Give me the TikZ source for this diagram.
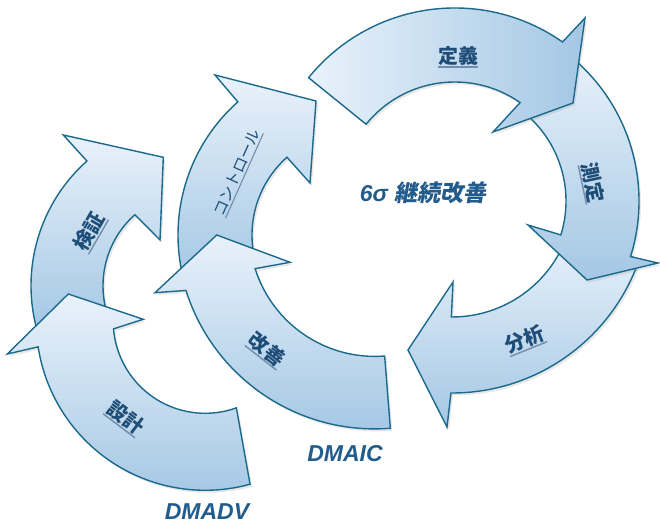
\documentclass[tikz,border=0pt]{standalone}
\usepackage{fontspec}
\setmainfont{Liberation Sans}
\newfontfamily\jp{Noto Sans CJK JP}
\newfontfamily\jpsl[FakeSlant=0.18]{Noto Sans CJK JP}
\usetikzlibrary{calc,shadows}
\definecolor{edge}{RGB}{27,106,140}
\definecolor{lite}{RGB}{233,242,251}
\definecolor{dark}{RGB}{164,199,228}
\definecolor{lbl}{RGB}{30,78,120}
\definecolor{ttl}{RGB}{33,92,140}
\definecolor{ulc}{RGB}{115,140,168}
\newcommand{\ulb}[1]{\setbox0=\hbox{#1}\rlap{\color{ulc}\rule[-0.2em]{\wd0}{0.07em}}\box0}
\newcommand{\lab}[5]{%
  \node[labtxt, rotate=#3, font=#5] (#1) at (#2) {\ulb{#4}};}
\begin{document}
\begin{tikzpicture}[x=1pt,y=1pt,
  arr/.style={draw=edge, line width=1.4pt, line join=miter, top color=lite, bottom color=dark,
    drop shadow={opacity=0.18, shadow xshift=2pt, shadow yshift=-2.5pt}},
  labtxt/.style={text=lbl, inner sep=0pt},
  bigfont/.style={font=\fontsize{23}{27}\selectfont}]
\useasboundingbox (0,0) rectangle (660,525);
\fill[white] (0,0) rectangle (660,525);
% centres
\coordinate (cK) at (356,290);
\coordinate (cG) at (374.8,294.1);
\coordinate (cB) at (452,330);
\coordinate (cS) at (452,324);
\coordinate (cT) at (454.7,329);
\coordinate (cV) at (198,239.3);
\coordinate (cD) at (205.2,203.7);
% DMADV: verify then design
\path[arr] ($(cV)+(-165:167)$) arc[start angle=-165, end angle=-228.3, radius=167]
  -- (63.3,390) -- (163.3,367.7) -- (160,285)
  -- ($(cV)+(-228.3:95)$) arc[start angle=-228.3, end angle=-165, radius=95] -- cycle;
\path[arr] ($(cD)+(-74.6:169)$) arc[start angle=-74.6, end angle=-171.3, radius=169]
  -- (7.3,171) -- (68.3,231) -- (143.3,205.7)
  -- ($(cD)+(-175.3:92)$) arc[start angle=-175.3, end angle=-70.2, radius=92] -- cycle;
% DMAIC
\path[arr] ($(cK)+(-165:178)$) arc[start angle=-165, end angle=-228.4, radius=178]
  -- (215,450) -- (316,424) -- (310,342)
  -- ($(cK)+(-228.4:104)$) arc[start angle=-228.4, end angle=-165, radius=104] -- cycle;
\path[arr] ($(cG)+(-85.5:198)$) arc[start angle=-85.5, end angle=-162.5, radius=198]
  -- (155,232.3) -- (216.7,290) -- (290,262.7)
  -- ($(cG)+(-162.5:125.5)$) arc[start angle=-162.5, end angle=-85.5, radius=125.5] -- cycle;
\path[arr] ($(cB)+(-19:198)$) arc[start angle=-19, end angle=-90.3, radius=198]
  -- (447,98) -- (408,175) -- (453,243)
  -- ($(cB)+(-90.3:122)$) arc[start angle=-90.3, end angle=-19, radius=122] -- cycle;
\path[arr] ($(cS)+(52:187)$) arc[start angle=52, end angle=-17.3, radius=187]
  -- (658,262) -- (587,245) -- (528,300)
  -- ($(cS)+(-17.3:114)$) arc[start angle=-17.3, end angle=52, radius=114] -- cycle;
\path[arr, shading angle=90] ($(cT)+(141:188)$) arc[start angle=141, end angle=55, radius=188]
  -- (585,507) -- (573,422) -- (493,393)
  -- ($(cT)+(55:114)$) arc[start angle=55, end angle=141, radius=114] -- cycle;
% labels
\lab{lT}{458,468}{0}{定義}{\jp\bfseries\fontsize{20}{24}\selectfont}
\lab{lS}{592,342}{-78}{測定}{\jp\bfseries\fontsize{20}{24}\selectfont}
\lab{lB}{525,185}{22}{分析}{\jp\bfseries\fontsize{20}{24}\selectfont}
\lab{lG}{266.7,175}{-38}{改善}{\jp\bfseries\fontsize{20}{24}\selectfont}
\lab{lK}{238,352}{66}{コントロール}{\jp\fontsize{15.5}{19}\selectfont}
\lab{lV}{90,293}{60}{検証}{\jp\bfseries\fontsize{20}{24}\selectfont}
\lab{lD}{125,107}{-37}{設計}{\jp\bfseries\fontsize{20}{24}\selectfont}
% centre title and cycle names
\node[bigfont, text=ttl, inner sep=0pt] (ctr) at (423,332) {{\bfseries\itshape 6σ} {\jpsl\bfseries 継続改善}};
\node[bigfont, text=ttl, inner sep=0pt] (dmaic) at (345,71) {\bfseries\itshape DMAIC};
\node[bigfont, text=ttl, inner sep=0pt] (dmadv) at (207,13) {\bfseries\itshape DMADV};
\end{tikzpicture}
\end{document}
